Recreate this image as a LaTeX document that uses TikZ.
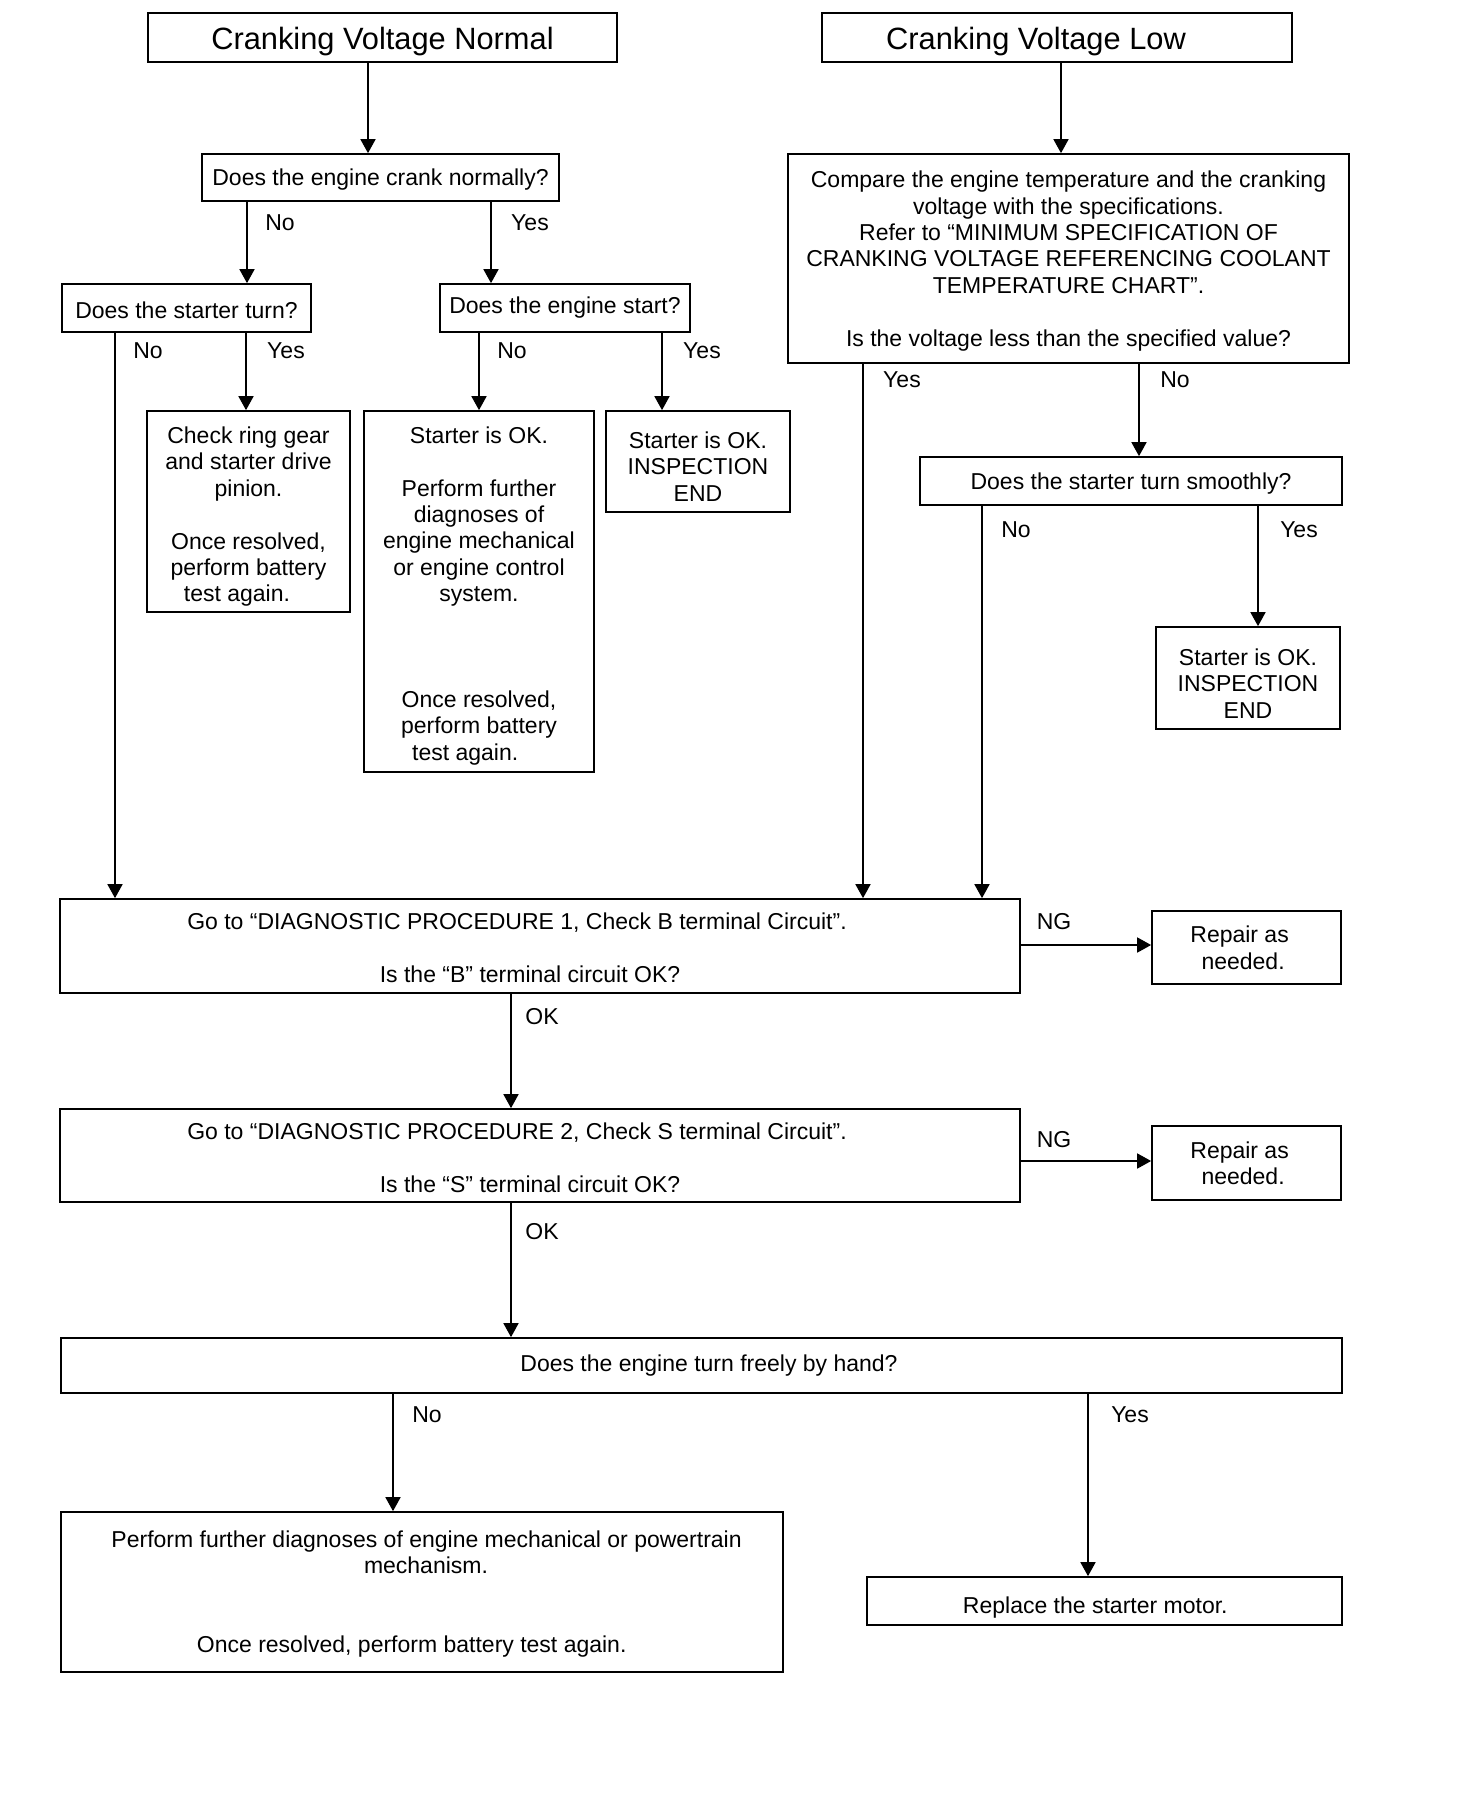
\documentclass[tikz,border=0pt]{standalone}
\usepackage{fontspec}
\setmainfont{Liberation Sans}
\usetikzlibrary{arrows.meta}
\newcommand*\dnrule[1]{\rule{0pt}{\dimexpr\fontcharht\font`\D+#1\relax}}
\begin{document}
\begin{tikzpicture}[x=0.5pt,y=-0.5pt,
  box/.style={draw, line width=0.85pt, rectangle, align=center, inner sep=2pt, font=\fontsize{11.5}{13.2}\selectfont},
  titlebox/.style={box, font=\fontsize{15.4}{18}\selectfont},
  arr/.style={line width=0.85pt, -{Triangle[width=7.5pt,length=7pt]}},
  lbl/.style={font=\fontsize{11.5}{13.2}\selectfont, inner sep=0pt}]
\useasboundingbox[fill=white] (0,0) rectangle (1472,1800);

% boxes
\node[titlebox, minimum width=234.5pt, minimum height=24.5pt] (cvn) at (382.5,37.5) {\dnrule{4.6pt}Cranking Voltage Normal};
\node[titlebox, minimum width=235pt, minimum height=24.5pt] (cvl) at (1057,37.5) {\dnrule{4.6pt}Cranking Voltage Low\hspace*{21pt}};
\node[box, minimum width=178.5pt, minimum height=23.5pt] (crank) at (380.5,177.5) {\dnrule{2.3pt}Does the engine crank normally?};
\node[box, minimum width=124.5pt, minimum height=24pt] (sturn) at (186.5,308) {\dnrule{2.3pt}Does the starter turn?};
\node[box, minimum width=125pt, minimum height=24pt] (estart) at (565,308) {Does the engine start?};
\node[box, minimum width=101.5pt, minimum height=100.5pt] (ring) at (248.5,511.5) {\dnrule{5.7pt}Check ring gear\\and starter drive\\pinion.\\[13.2pt]Once resolved,\\perform battery\\test again.\hspace*{11.5pt}};
\node[box, minimum width=115pt, minimum height=180.5pt] (okperf) at (479,591.5) {\dnrule{4.6pt}Starter is OK.\\[13.2pt]Perform further\\diagnoses of\\engine mechanical\\or engine control\\system.\\[39.6pt]Once resolved,\\perform battery\\test again.\hspace*{13.8pt}};
\node[box, minimum width=92pt, minimum height=50.5pt] (okendA) at (698,461.5) {\dnrule{5.2pt}Starter is OK.\\INSPECTION\\END};
\node[box, minimum width=280.5pt, minimum height=104.5pt] (compare) at (1068.5,258.5) {\dnrule{2.9pt}Compare the engine temperature and the cranking\\voltage with the specifications.\\Refer to “MINIMUM SPECIFICATION OF\\CRANKING VOLTAGE REFERENCING COOLANT\\TEMPERATURE CHART”.\\[13.2pt]Is the voltage less than the specified value?};
\node[box, minimum width=211pt, minimum height=24pt] (smooth) at (1131,481) {\dnrule{3.4pt}Does the starter turn smoothly?};
\node[box, minimum width=92pt, minimum height=51pt] (okendB) at (1248,678) {\dnrule{5.7pt}Starter is OK.\\INSPECTION\\END};
\node[box, minimum width=480pt, minimum height=47pt] (diagA) at (540,946) {\dnrule{2.3pt}Go to “DIAGNOSTIC PROCEDURE 1, Check B terminal Circuit”.\hspace*{23pt}\\[13.2pt]Is the “B” terminal circuit OK?\hspace*{10pt}};
\node[box, minimum width=94.5pt, minimum height=36.5pt] (repA) at (1246.5,947.5) {\dnrule{0.6pt}Repair as\hspace*{6.9pt}\\needed.\hspace*{3.4pt}};
\node[box, minimum width=480pt, minimum height=46.5pt] (diagB) at (540,1155.5) {\dnrule{2.3pt}Go to “DIAGNOSTIC PROCEDURE 2, Check S terminal Circuit”.\hspace*{23pt}\\[13.2pt]Is the “S” terminal circuit OK?\hspace*{10pt}};
\node[box, minimum width=94.5pt, minimum height=37pt] (repB) at (1246.5,1163) {Repair as\hspace*{6.9pt}\\needed.\hspace*{3.4pt}};
\node[box, minimum width=640.5pt, minimum height=27.5pt] (free) at (701.5,1365.5) {\hspace*{7.5pt}Does the engine turn freely by hand?};
\node[box, minimum width=361pt, minimum height=80pt] (perf) at (422,1592) {\dnrule{2.3pt}\hspace*{4.6pt}Perform further diagnoses of engine mechanical or powertrain\\\hspace*{4pt}mechanism.\\[26.4pt]Once resolved, perform battery test again.\hspace*{10.3pt}};
\node[box, minimum width=237.5pt, minimum height=24pt] (repl) at (1104.5,1601) {\dnrule{6.9pt}Replace the starter motor.\hspace*{9.2pt}};

% connector columns
\coordinate (c1) at (368,0);
\coordinate (c2) at (1061,0);
\coordinate (c3) at (247,0);
\coordinate (c4) at (491,0);
\coordinate (c5) at (115,0);
\coordinate (c6) at (246,0);
\coordinate (c7) at (479,0);
\coordinate (c8) at (662,0);
\coordinate (c9) at (863,0);
\coordinate (c10) at (1139,0);
\coordinate (c11) at (982,0);
\coordinate (c12) at (1258,0);
\coordinate (c14) at (511,0);
\coordinate (c17) at (393,0);
\coordinate (c18) at (1088,0);
\coordinate (r13) at (0,945);
\coordinate (r15) at (0,1161);

\draw[arr] (cvn.south -| c1) -- (crank.north -| c1);
\draw[arr] (cvl.south -| c2) -- (compare.north -| c2);
\draw[arr] (crank.south -| c3) -- (sturn.north -| c3);
\draw[arr] (crank.south -| c4) -- (estart.north -| c4);
\draw[arr] (sturn.south -| c5) -- (diagA.north -| c5);
\draw[arr] (sturn.south -| c6) -- (ring.north -| c6);
\draw[arr] (estart.south -| c7) -- (okperf.north -| c7);
\draw[arr] (estart.south -| c8) -- (okendA.north -| c8);
\draw[arr] (compare.south -| c9) -- (diagA.north -| c9);
\draw[arr] (compare.south -| c10) -- (smooth.north -| c10);
\draw[arr] (smooth.south -| c11) -- (diagA.north -| c11);
\draw[arr] (smooth.south -| c12) -- (okendB.north -| c12);
\draw[arr] (diagA.east |- r13) -- (repA.west |- r13);
\draw[arr] (diagA.south -| c14) -- (diagB.north -| c14);
\draw[arr] (diagB.east |- r15) -- (repB.west |- r15);
\draw[arr] (diagB.south -| c14) -- (free.north -| c14);
\draw[arr] (free.south -| c17) -- (perf.north -| c17);
\draw[arr] (free.south -| c18) -- (repl.north -| c18);

% labels
\node[lbl] (l3) at (280,223) {No};
\node[lbl] (l4) at (530,223) {Yes};
\node[lbl] (l5) at (148,351) {No};
\node[lbl] (l6) at (286,351) {Yes};
\node[lbl] (l7) at (512,351) {No};
\node[lbl] (l8) at (702,351) {Yes};
\node[lbl] (l9) at (902,380) {Yes};
\node[lbl] (l10) at (1175,380) {No};
\node[lbl] (l11) at (1016,530) {No};
\node[lbl] (l12) at (1299,530) {Yes};
\node[lbl] (l13) at (1054,922) {NG};
\node[lbl] (l14) at (542,1017) {OK};
\node[lbl] (l15) at (1054,1140) {NG};
\node[lbl] (l16) at (542,1232) {OK};
\node[lbl] (l17) at (427,1415) {No};
\node[lbl] (l18) at (1130,1415) {Yes};
\end{tikzpicture}
\end{document}
